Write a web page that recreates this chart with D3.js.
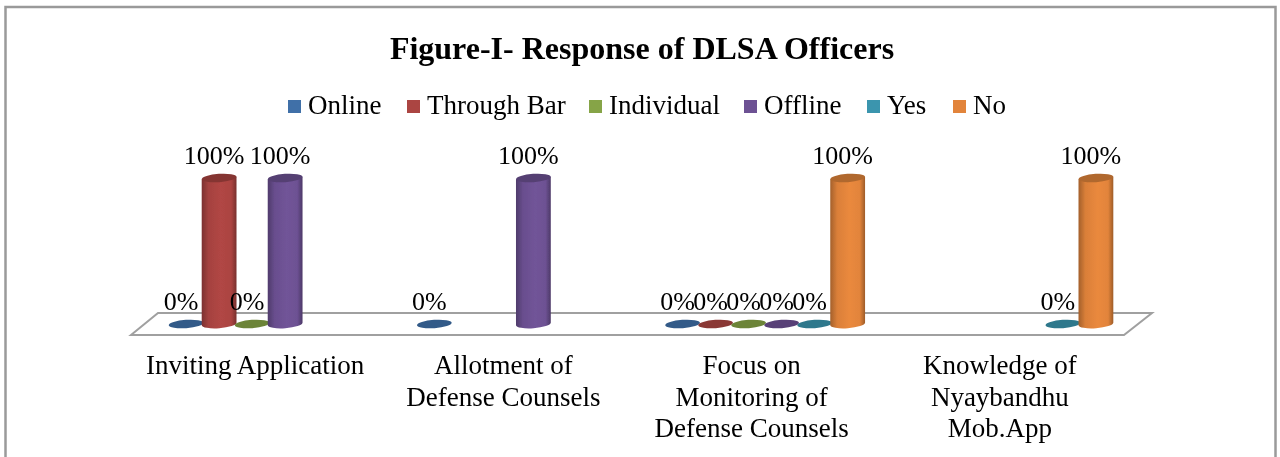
<!DOCTYPE html>
<html>
<head>
<meta charset="utf-8">
<script src="https://cdn.jsdelivr.net/npm/d3@7"></script>
<style>
  html, body { margin: 0; padding: 0; background: #fff; overflow: hidden; }
  text { font-family: "Liberation Serif", serif; fill: #000; }
</style>
</head>
<body>
<svg id="chart"></svg>
<script>
// data
const categories = [
  ['Inviting Application'],
  ['Allotment of', 'Defense Counsels'],
  ['Focus on', 'Monitoring of', 'Defense Counsels'],
  ['Knowledge of', 'Nyaybandhu', 'Mob.App']
];
const seriesNames = ['Online', 'Through Bar', 'Individual', 'Offline', 'Yes', 'No'];
const online = [0, 0, 0, null];
const throughBar = [100, null, 0, null];
const individual = [0, null, 0, null];
const offline = [100, 100, 0, null];
const yes = [null, null, 0, 0];
const no = [null, null, 100, 100];
const seriesValues = [online, throughBar, individual, offline, yes, no];
const seriesColors = ['#3f6fa8', '#ab4442', '#86a447', '#6d5193', '#3a95ae', '#e2843b'];

// dimensions
const width = 1280;
const height = 457;
const floorDepth = 27;
const floorDrop = 22;
const radius = 17.4;
const tilt = 4.2;

const svg = d3.select('#chart')
  .attr('width', width)
  .attr('height', height)
  .style('display', 'block');

const defs = svg.append('defs');
defs.append('filter').attr('id', 'soft')
  .append('feGaussianBlur').attr('stdDeviation', 0.5);

// cylinder shading, dark at both edges
seriesColors.forEach((c, i) => {
  const g = defs.append('linearGradient').attr('id', `cyl${i}`);
  const stops = [[0, d3.color(c).darker(0.9)], [0.2, d3.color(c).darker(0.1)], [0.55, d3.color(c).brighter(0.1)], [0.85, d3.color(c)], [1, d3.color(c).darker(1)]];
  stops.forEach((s) => g.append('stop').attr('offset', s[0]).attr('stop-color', s[1]));
});

const root = svg.append('g').attr('filter', 'url(#soft)');

// outer frame
root.append('rect')
  .attr('x', 5.5)
  .attr('y', 7)
  .attr('width', 1270)
  .attr('height', 470)
  .attr('fill', '#fff')
  .attr('stroke', '#9a9a9a')
  .attr('stroke-width', 2.5);

root.append('text')
  .attr('x', 642)
  .attr('y', 59)
  .attr('text-anchor', 'middle')
  .style('font-size', '32px')
  .style('font-weight', 'bold')
  .text('Figure-I- Response of DLSA Officers');

// scales
const catIds = d3.range(categories.length);
const xFront = d3.scaleBand().domain(catIds).range([131, 1124]);
const xBack = d3.scaleBand().domain(catIds).range([131 + floorDepth / 2, 1124 + floorDepth / 2]);
const xSeries = d3.scaleBand().domain(d3.range(seriesNames.length)).range([0, xBack.bandwidth()]).paddingOuter(0.76);
const yScale = d3.scaleLinear().domain([0, 100]).range([324, 178]);

// floor
const floorY = yScale(0) + 11;
root.append('path')
  .attr('d', d3.line()([
    [xFront.range()[0], floorY],
    [xFront.range()[0] + floorDepth, floorY - floorDrop],
    [xFront.range()[1] + floorDepth + 1, floorY - floorDrop],
    [xFront.range()[1], floorY]
  ]) + 'Z')
  .attr('fill', '#fff')
  .attr('stroke', '#a0a0a0')
  .attr('stroke-width', 2);

// flatten to one row per mark
const marks = [];
seriesValues.forEach((vals, s) => {
  vals.forEach((v, c) => {
    if (v !== null) marks.push({ s, c, v, cx: xBack(c) + xSeries(s) + xSeries.bandwidth() / 2 });
  });
});

const barG = root.selectAll('g.bar')
  .data(marks)
  .enter()
  .append('g')
  .attr('class', 'bar');

const cylinderPath = (d) => {
  const top = yScale(d.v);
  const base = yScale(0);
  const l = d.cx - radius;
  const r = d.cx + radius;
  return `M${l},${top + 1.2} L${l},${base + 1.2} A${radius},${tilt} -4 0 0 ${r},${base - 1.2} L${r},${top - 1.2} Z`;
};

barG.filter((d) => d.v > 0)
  .append('path')
  .attr('d', cylinderPath)
  .attr('fill', (d) => `url(#cyl${d.s})`);

// top cap of the cylinder, also the flat disc for 0%
barG.append('ellipse')
  .attr('cx', 0)
  .attr('cy', 0)
  .attr('rx', radius)
  .attr('ry', tilt)
  .attr('transform', (d) => `translate(${d.cx},${yScale(d.v)}) rotate(-4)`)
  .attr('fill', (d) => d3.color(seriesColors[d.s]).darker(d.v > 0 ? 0.7 : 0.6));

// value labels
root.selectAll('text.value')
  .data(marks)
  .enter()
  .append('text')
  .attr('class', 'value')
  .attr('x', (d) => d.cx - 5)
  .attr('y', (d) => yScale(d.v) - 14)
  .attr('text-anchor', 'middle')
  .style('font-size', '26px')
  .text((d) => `${d.v}%`);

// category axis, wrapped labels
const xAxis = d3.axisBottom(xFront).tickSize(0).tickFormat('');
const axisG = root.append('g')
  .attr('transform', `translate(0, ${floorY})`)
  .call(xAxis);
axisG.select('.domain').remove();
axisG.selectAll('.tick text').remove();
axisG.selectAll('.tick')
  .append('text')
  .attr('text-anchor', 'middle')
  .style('font-size', '27px')
  .selectAll('tspan')
  .data((c) => categories[c])
  .enter()
  .append('tspan')
  .attr('x', 0)
  .attr('y', (d, i) => 39 + i * 31.5)
  .text((d) => d);

// legend
const legendX = [288, 407, 589, 744, 867, 953];
const legendScale = d3.scaleOrdinal().domain(seriesNames).range(legendX);
const legend = root.selectAll('g.legend')
  .data(seriesNames)
  .enter()
  .append('g')
  .attr('class', 'legend')
  .attr('transform', (d) => `translate(${legendScale(d)}, 114)`);
legend.append('rect')
  .attr('x', 0)
  .attr('y', -14)
  .attr('width', 13)
  .attr('height', 13)
  .attr('fill', (d, i) => seriesColors[i]);
legend.append('text')
  .attr('x', 20)
  .style('font-size', '27px')
  .text((d) => d);
</script>
</body>
</html>
